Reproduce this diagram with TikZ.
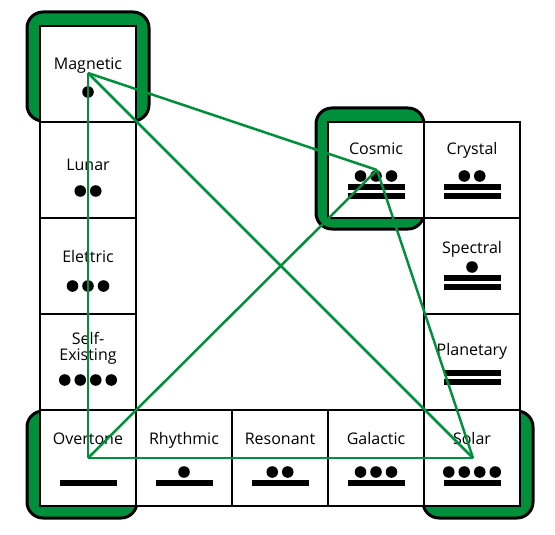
\documentclass[tikz,border=0pt]{standalone}
\usepackage{fontspec}
\setmainfont{Open Sans}
\definecolor{mgreen}{RGB}{0,143,58}
\newcommand{\dotrow}[3]{\foreach \k in {1,...,#3}{\fill (#1+15.5*\k-7.75-7.75*#3,#2) circle (5.8pt);}}
\newcommand{\barat}[2]{\fill (#1-28.5,#2-3.2) rectangle (#1+28.5,#2+3.2);}
\begin{document}
\begin{tikzpicture}[x=1pt,y=-1pt,
  cell/.style={draw=black, fill=white, line width=2.6pt, minimum width=96pt, minimum height=96pt, inner sep=0pt},
  halo/.style={fill=mgreen, draw=black, line width=3pt, rounded corners=16pt},
  lbl/.style={font=\fontsize{16}{16}\selectfont, anchor=base, inner sep=0pt},
  link/.style={draw=mgreen, line width=2.5pt}]
\useasboundingbox (0,0) rectangle (555,535);
% green halos
\draw[halo] (27,12) rectangle (149,121);
\draw[halo] (316,108) rectangle (424,229);
\draw[halo] (27,411) rectangle (137,518);
\draw[halo] (423,411) rectangle (533,518);
% cells
\node[cell] (mag) at (88,74) {};
\node[cell] (lun) at (88,170) {};
\node[cell] (ele) at (88,266) {};
\node[cell] (sel) at (88,362) {};
\node[cell] (ove) at (88,458) {};
\node[cell] (rhy) at (184,458) {};
\node[cell] (res) at (280,458) {};
\node[cell] (gal) at (376,458) {};
\node[cell] (sol) at (472,458) {};
\node[cell] (cos) at (376,170) {};
\node[cell] (cry) at (472,170) {};
\node[cell] (spe) at (472,266) {};
\node[cell] (pla) at (472,362) {};
% labels
\node[lbl] (magT) at (88,70) {Magnetic};
\node[lbl] (lunT) at (88,170) {Lunar};
\node[lbl] (eleT) at (88,262) {Elettric};
\node[lbl] (selT) at (88,344) {Self-};
\node[lbl] (selU) at (88,360) {Existing};
\node[lbl] (oveT) at (88,444) {Overtone};
\node[lbl] (rhyT) at (184,444) {Rhythmic};
\node[lbl] (resT) at (280,444) {Resonant};
\node[lbl] (galT) at (376,444) {Galactic};
\node[lbl] (solT) at (472,444) {Solar};
\node[lbl] (cosT) at (376,154) {Cosmic};
\node[lbl] (cryT) at (472,154) {Crystal};
\node[lbl] (speT) at (472,253) {Spectral};
\node[lbl] (plaT) at (472,355) {Planetary};
% numerals
\dotrow{88}{92}{1}
\dotrow{88}{191}{2}
\dotrow{88}{286}{3}
\dotrow{88}{380}{4}
\barat{88}{483}
\dotrow{184}{472}{1}\barat{184}{483}
\dotrow{280}{472}{2}\barat{280}{483}
\dotrow{376}{472}{3}\barat{376}{483}
\dotrow{472}{472}{4}\barat{472}{483}
\barat{472}{373}\barat{472}{382}
\dotrow{472}{267}{1}\barat{472}{278}\barat{472}{287}
\dotrow{472}{176}{2}\barat{472}{187}\barat{472}{196}
\dotrow{376}{176}{3}\barat{376}{187}\barat{376}{196}
% vertices and links
\coordinate (vMag) at (88,73);
\coordinate (vCos) at (377,170);
\coordinate (vOve) at (88,458);
\coordinate (vSol) at (473,458);
\draw[link] (vMag) -- (vOve);
\draw[link] (vMag) -- (vCos);
\draw[link] (vMag) -- (vSol);
\draw[link] (vCos) -- (vOve);
\draw[link] (vCos) -- (vSol);
\draw[link] (vOve) -- (vSol);
\end{tikzpicture}
\end{document}
